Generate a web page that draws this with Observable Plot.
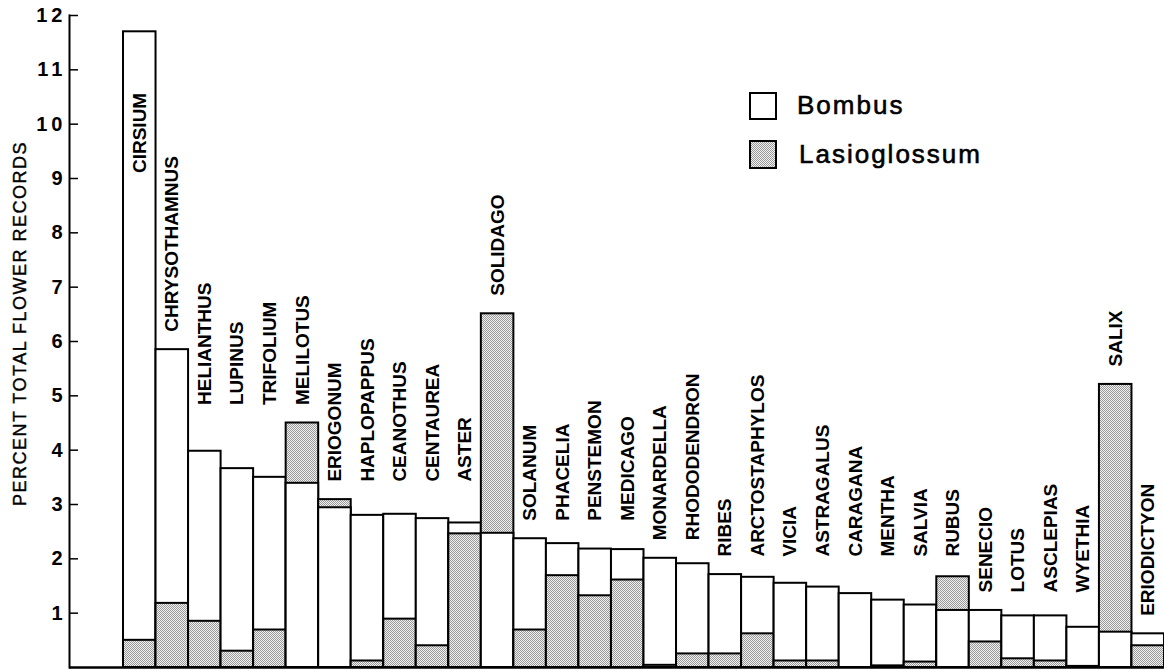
<!DOCTYPE html>
<html>
<head>
<meta charset="utf-8">
<script src="https://cdn.jsdelivr.net/npm/d3@7"></script>
<script src="https://cdn.jsdelivr.net/npm/@observablehq/plot@0.6"></script>
<style>
  html, body { margin: 0; padding: 0; background: white; }
  #wrap { position: relative; width: 1164px; height: 669px; overflow: hidden; }
</style>
</head>
<body>
<div id="wrap"></div>
<script>
// ---- data ----
const genera = ["CIRSIUM","CHRYSOTHAMNUS","HELIANTHUS","LUPINUS","TRIFOLIUM","MELILOTUS","ERIOGONUM","HAPLOPAPPUS","CEANOTHUS","CENTAUREA","ASTER","SOLIDAGO","SOLANUM","PHACELIA","PENSTEMON","MEDICAGO","MONARDELLA","RHODODENDRON","RIBES","ARCTOSTAPHYLOS","VICIA","ASTRAGALUS","CARAGANA","MENTHA","SALVIA","RUBUS","SENECIO","LOTUS","ASCLEPIAS","WYETHIA","SALIX","ERIODICTYON"];
const bombus = [11.70, 5.85, 3.98, 3.66, 3.50, 3.39, 2.94, 2.80, 2.82, 2.74, 2.66, 2.47, 2.37, 2.28, 2.18, 2.17, 2.01, 1.91, 1.71, 1.66, 1.55, 1.48, 1.36, 1.24, 1.15, 1.05, 1.05, 0.95, 0.95, 0.74, 0.65, 0.62];
const lasioglossum = [0.50, 1.18, 0.85, 0.30, 0.69, 4.50, 3.09, 0.12, 0.89, 0.40, 2.46, 6.51, 0.69, 1.69, 1.32, 1.61, 0.04, 0.25, 0.25, 0.62, 0.12, 0.12, 0.00, 0.03, 0.10, 1.67, 0.47, 0.16, 0.12, 0.02, 5.21, 0.40];
// labels of neighbouring bars are set on a common level
const labelGroup = [1,2,3,3,3,3,4,4,4,4,4,5,6,6,6,6,7,7,8,8,8,8,8,8,8,8,9,9,9,9,10,11];
const species = ["Bombus", "Lasioglossum"];
const yTicks = [1,2,3,4,5,6,7,8,9,10,11,12];
const yTitle = "PERCENT TOTAL FLOWER RECORDS";

// ---- derived tables ----
const rows = [];
genera.forEach((g, i) => {
  const pair = [
    {genus: g, species: "Bombus", value: bombus[i]},
    {genus: g, species: "Lasioglossum", value: lasioglossum[i]}
  ];
  pair.sort((a, b) => b.value - a.value); // taller bar behind, shorter in front
  rows.push(...pair);
});
const tops = genera.map((g, i) => Math.max(bombus[i], lasioglossum[i]));
const level = {};
genera.forEach((g, i) => { level[labelGroup[i]] = Math.max(level[labelGroup[i]] ?? 0, tops[i]); });
const labels = genera.map((g, i) => ({genus: g, level: level[labelGroup[i]]}));
const above = labels.filter(d => d.level <= 9);
const inside = labels.filter(d => d.level > 9);

const NS = "http://www.w3.org/2000/svg";
const patternDefs = () => {
  const defs = document.createElementNS(NS, "defs");
  defs.innerHTML = `<pattern id="dots" patternUnits="userSpaceOnUse" width="2" height="2">
    <rect width="2" height="2" fill="#f0f0f0"></rect>
    <rect x="0" y="0" width="1" height="1" fill="#9a9a9a"></rect>
    <rect x="1" y="1" width="1" height="1" fill="#9a9a9a"></rect>
  </pattern>`;
  return defs;
};

const font = "'Liberation Sans', Arial, Helvetica, sans-serif";

const chart = Plot.plot({
  width: 1164,
  height: 669,
  marginLeft: 69,
  marginRight: 0,
  marginTop: 15,
  marginBottom: 2,
  style: {fontFamily: font, background: "white", color: "black", overflow: "visible"},
  x: {type: "band", domain: genera, padding: 0, round: false, insetLeft: 54, axis: null},
  y: {domain: [0, 12], axis: null},
  color: {domain: species, range: ["white", "url(#dots)"]},
  marks: [
    patternDefs,
    Plot.barY(rows, {x: "genus", y1: 0, y2: "value", fill: "species", stroke: "black", strokeWidth: 2}),
    Plot.ruleY([0], {stroke: "black", strokeWidth: 2.5}),
    Plot.frame({anchor: "left", stroke: "black", strokeWidth: 2}),
    Plot.axisY(yTicks, {anchor: "left", tickSize: -9, tickPadding: 12, strokeWidth: 1.5, fontSize: 20, fontWeight: "bold", tickFormat: d => String(d), label: null}),
    Plot.text(above, {x: "genus", y: "level", text: "genus", rotate: -90, textAnchor: "start", dy: -18, fontSize: 19, fontWeight: "bold", fill: "black"}),
    Plot.text(inside, {x: "genus", y: "level", text: "genus", rotate: -90, textAnchor: "end", dy: 61, fontSize: 19, fontWeight: "bold", fill: "black"}),
    Plot.text([yTitle], {frameAnchor: "left", text: d => d, rotate: -90, textAnchor: "middle", dx: -49, dy: -18, fontSize: 18, fill: "black", stroke: "black", strokeWidth: 0.4})
  ]
});
// letter spacing as in the reference typesetting
chart.querySelectorAll("text").forEach(t => {
  const s = t.textContent;
  if (s === yTitle) t.style.letterSpacing = "1.5px";
  else if (/^\d+$/.test(s)) t.style.letterSpacing = "4px";
});
document.getElementById("wrap").appendChild(chart);

// legend (inside the plotting area, top right)
const legend = document.createElementNS(NS, "svg");
legend.setAttribute("width", 1164);
legend.setAttribute("height", 200);
legend.style.position = "absolute";
legend.style.left = "0px";
legend.style.top = "0px";
const lf = font.replace(/'/g, "");
legend.innerHTML = `
  <rect x="750" y="93" width="26" height="26" fill="white" stroke="black" stroke-width="2"></rect>
  <text x="797" y="114" font-family="${lf}" font-size="26" letter-spacing="2" fill="black" stroke="black" stroke-width="0.6">${species[0]}</text>
  <rect x="750" y="141" width="26" height="27" fill="url(#dots)" stroke="black" stroke-width="2"></rect>
  <text x="799" y="163" font-family="${lf}" font-size="26" letter-spacing="2" fill="black" stroke="black" stroke-width="0.6">${species[1]}</text>`;
document.getElementById("wrap").appendChild(legend);
</script>
</body>
</html>
